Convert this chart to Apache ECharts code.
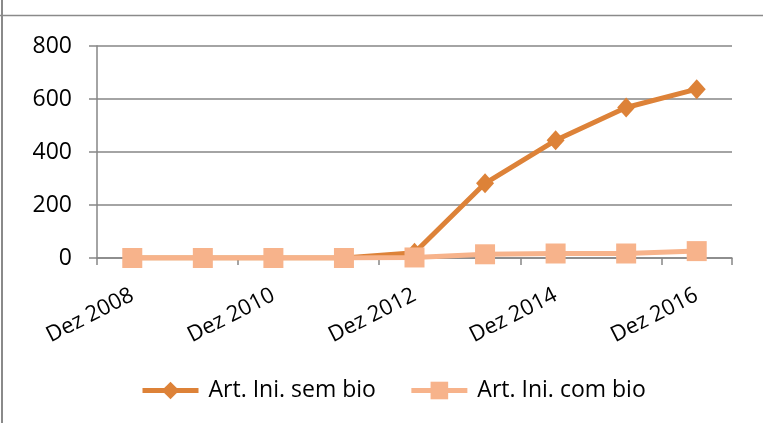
<!DOCTYPE html>
<html>
<head>
    <meta charset="UTF-8">
    <title>Art. Ini.</title>
    <script src="https://cdn.jsdelivr.net/npm/echarts@6/dist/echarts.min.js"></script>
    <style type="text/css">
        html, body, #main {
            height: 100%;
            width: 100%;
            margin: 0;
            padding: 0;
            background: #fff;
        }
    </style>
</head>
<body>
<div id="main"></div>
<script type="text/javascript">
    // categorias (dezembro de cada ano)
    var categorias = ['Dez 2008', 'Dez 2009', 'Dez 2010', 'Dez 2011', 'Dez 2012',
        'Dez 2013', 'Dez 2014', 'Dez 2015', 'Dez 2016'];
    var semBio = [0, 0, 0, 0, 20, 282, 444, 568, 637];
    var comBio = [0, 0, 0, 0, 2, 14, 17, 17, 26];
    var yTicks = [0, 200, 400, 600, 800];

    var fonte = '"Open Sans", sans-serif';
    var cinza = '#868686';

    var mycharts = echarts.init(document.getElementById('main'));
    var option = {
        backgroundColor: '#fff',
        animation: false,
        textStyle: {fontFamily: fonte},
        graphic: [
            {type: 'line', shape: {x1: 2, y1: 0, x2: 2, y2: 423}, style: {stroke: '#8a8a8a', lineWidth: 2}},
            {type: 'line', shape: {x1: 0, y1: 15.5, x2: 763, y2: 15.5}, style: {stroke: '#8a8a8a', lineWidth: 1.5}}
        ],
        grid: {
            left: 97,
            right: 31,
            top: 46,
            bottom: 165
        },
        legend: {
            left: 135,
            top: 374,
            itemWidth: 56,
            itemHeight: 22,
            itemGap: 33,
            lineStyle: {width: 5},
            textStyle: {fontSize: 23, color: '#000', fontFamily: fonte, padding: [0, 0, 0, 5]},
            data: ['Art. Ini. sem bio', 'Art. Ini. com bio']
        },
        xAxis: {
            type: 'category',
            data: categorias,
            boundaryGap: true,
            axisLine: {lineStyle: {color: cinza, width: 1.5}},
            axisTick: {show: true, length: 7, lineStyle: {color: cinza, width: 1.5}},
            axisLabel: {
                interval: 1,
                rotate: 27,
                margin: 36,
                fontSize: 22,
                color: '#000',
                fontFamily: fonte
            }
        },
        yAxis: {
            type: 'value',
            min: yTicks[0],
            max: yTicks[yTicks.length - 1],
            interval: 200,
            axisLine: {show: true, lineStyle: {color: cinza, width: 1.5}},
            axisTick: {show: true, length: 8, lineStyle: {color: cinza, width: 1.5}},
            axisLabel: {margin: 25, fontSize: 23, color: '#000', fontFamily: fonte},
            splitLine: {lineStyle: {color: cinza, width: 1.5}}
        },
        series: [
            {
                name: 'Art. Ini. sem bio',
                type: 'line',
                data: semBio,
                symbol: 'diamond',
                symbolSize: [18, 20],
                color: '#DD8238',
                lineStyle: {width: 5, color: '#DD8238'},
                itemStyle: {color: '#DD8238'}
            },
            {
                name: 'Art. Ini. com bio',
                type: 'line',
                data: comBio,
                symbol: 'rect',
                symbolSize: 20,
                color: '#F7B38B',
                lineStyle: {width: 5, color: '#F7B38B'},
                itemStyle: {color: '#F7B38B'}
            }
        ]
    };

    mycharts.setOption(option);
</script>
</body>
</html>
